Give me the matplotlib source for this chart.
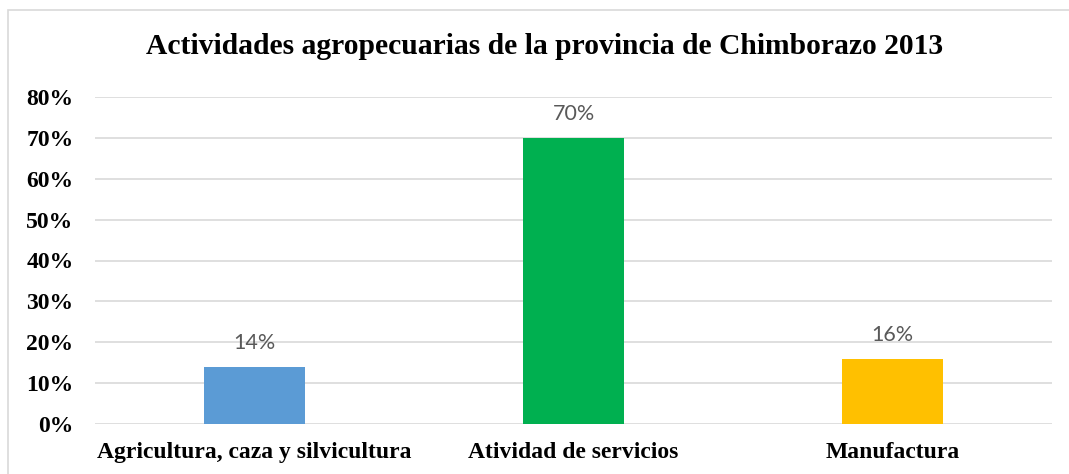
import matplotlib.pyplot as plt
from matplotlib.patches import Rectangle

# Datos del gráfico
categorias = ['Agricultura, caza y silvicultura', 'Atividad de servicios', 'Manufactura']
valores = [0.14, 0.70, 0.16]
etiquetas = ['14%', '70%', '16%']
colores = ['#5B9BD5', '#00B050', '#FFC000']
ticks_y = [0, 0.1, 0.2, 0.3, 0.4, 0.5, 0.6, 0.7, 0.8]
ticks_y_txt = ['0%', '10%', '20%', '30%', '40%', '50%', '60%', '70%', '80%']

W, H = 1069, 474
fig = plt.figure(figsize=(W / 100, H / 100), dpi=100)
ax = fig.add_axes([95 / W, 50 / H, 957 / W, 327 / H])

serif = ['Liberation Serif', 'DejaVu Serif']

x = list(range(len(categorias)))
ax.bar(x, valores, width=0.317, color=colores, zorder=3)
for i in x:
    ax.text(i, valores[i] + 0.033, etiquetas[i], ha='center', va='bottom',
            fontsize=15.5, color='#595959', family=['Lato', 'DejaVu Sans'])

ax.set_xlim(-0.5, 2.5)
ax.set_ylim(0, 0.8)
ax.set_yticks(ticks_y)
ax.set_yticklabels(ticks_y_txt, fontsize=17, fontweight='bold', family=serif)
ax.set_xticks(x)
ax.set_xticklabels(categorias, fontsize=17, fontweight='bold', family=serif)
ax.tick_params(axis='both', length=0)
ax.tick_params(axis='y', pad=15.5)
ax.tick_params(axis='x', pad=13)
ax.grid(axis='y', color='#D9D9D9', linewidth=1.2, zorder=0)
for s in ax.spines.values():
    s.set_visible(False)

fig.text(545 / W, 1 - 47 / H, 'Actividades agropecuarias de la provincia de Chimborazo 2013',
         ha='center', va='center', fontsize=21.3, fontweight='bold', family=serif)

# marco gris (solo se ven los bordes izquierdo y superior)
fig.patches.append(Rectangle((8 / W, -0.05), 1.1, 1.05 - 10 / H, transform=fig.transFigure,
                             fill=False, edgecolor='#D9D9D9', linewidth=1.2))

fig.savefig('out.png', dpi=100)
